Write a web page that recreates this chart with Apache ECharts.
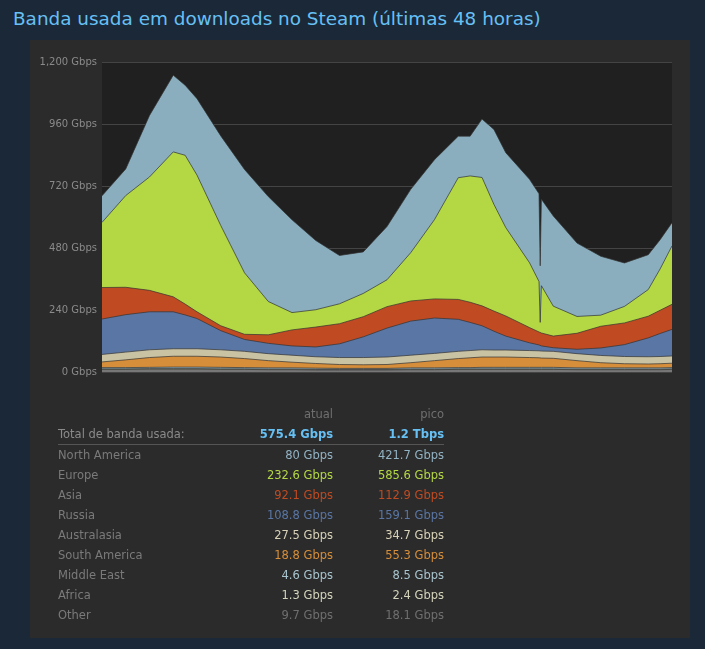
<!DOCTYPE html>
<html><head><meta charset="utf-8">
<script src="https://cdn.jsdelivr.net/npm/echarts@6/dist/echarts.min.js"></script>
<style>
body{margin:0;background:#1b2838;width:705px;height:649px;overflow:hidden;font-family:"DejaVu Sans",sans-serif;}
#title{position:absolute;left:13px;top:8px;color:#66c0f4;font-size:18.4px;font-family:"DejaVu Sans",sans-serif;}
#panel{position:absolute;left:30px;top:40px;width:660px;height:598px;background:#2b2b2b;}
#chart{position:absolute;left:0;top:0;width:705px;height:649px;}
#tbl{position:absolute;left:58px;top:404px;width:386px;font-size:11.5px;}
.row{position:relative;height:20px;line-height:20px;}
.row span{position:absolute;white-space:nowrap;}
.lab{left:0;color:#7a7a7a;}
.c1{right:111px;}
.c2{right:0;}
</style></head><body>
<div id="title">Banda usada em downloads no Steam (últimas 48 horas)</div>
<div id="panel"></div>
<div id="chart"></div>
<div id="tbl"></div>
<script>
const hours = [0,2,4,6,7,8,10,12,14,16,18,20,22,24,26,28,30,31,32,33,34,36,36.8,36.9,37,38,40,42,44,46,47,48];
const other = [10,10,11,11,11,11,10,10,9,9,8,8,8,8,9,9,10,10,10,10,10,10,10,10,10,10,9,9,9,9,9,10];
const africa = [2,2,2,2,2,2,2,2,2,2,2,2,2,2,2,2,2,2,2,2,2,2,2,2,2,2,2,2,2,2,2,2];
const middleEast = [5,5,5,6,6,6,6,5,5,5,5,4,4,4,5,5,5,5,6,6,6,6,6,6,6,6,5,5,5,5,5,5];
const southAmerica = [22,30,38,42,42,42,40,35,28,22,18,15,14,15,20,28,35,38,40,40,40,38,37,36,36,35,28,20,16,15,16,17];
const australasia = [29,30,30,29,29,29,28,28,27,27,26,27,28,29,29,28,28,28,28,27,27,27,27,27,27,27,27,28,28,28,28,28];
const russia = [137,145,147,143,131,117,74,46,40,36,38,53,80,112,132,137,124,109,93,73,54,30,23,20,20,14,17,29,46,73,89,103];
const asia = [122,106,83,58,42,26,19,20,33,62,77,78,78,83,78,74,77,78,77,78,78,59,50,50,50,45,62,84,84,84,90,97];
const europe = [252,355,439,561,576,529,388,238,129,67,67,77,90,104,187,307,471,489,497,413,342,251,195,41,183,116,65,43,64,103,160,226];
const northAmerica = [103,103,238,297,271,296,347,400,406,359,268,187,161,206,245,232,161,154,226,290,290,323,340,219,335,349,284,228,168,135,113,90];
const yTicks = [0,240,480,720,960,1200];

const regions = ["North America","Europe","Asia","Russia","Australasia","South America","Middle East","Africa","Other"];
const current = ["80 Gbps","232.6 Gbps","92.1 Gbps","108.8 Gbps","27.5 Gbps","18.8 Gbps","4.6 Gbps","1.3 Gbps","9.7 Gbps"];
const peak = ["421.7 Gbps","585.6 Gbps","112.9 Gbps","159.1 Gbps","34.7 Gbps","55.3 Gbps","8.5 Gbps","2.4 Gbps","18.1 Gbps"];
const totalCurrent = "575.4 Gbps", totalPeak = "1.2 Tbps";

const colors = {"North America":"#8aaebe","Europe":"#b4d844","Asia":"#c04b22","Russia":"#5a76a4","Australasia":"#c9c3a4","South America":"#d68e3a","Middle East":"#98b4be","Africa":"#bdbd9a","Other":"#777777"};
const textColors = {"North America":"#92b3c4","Europe":"#b4d844","Asia":"#c04b22","Russia":"#5a76a4","Australasia":"#d8d2b8","South America":"#d68e3a","Middle East":"#a8c4ce","Africa":"#d4d4bc","Other":"#6f6f6f"};

const stackOrder = [["Other",other],["Africa",africa],["Middle East",middleEast],["South America",southAmerica],["Australasia",australasia],["Russia",russia],["Asia",asia],["Europe",europe],["North America",northAmerica]];

// cumulative tops (stacked), drawn from top layer down so each lower area covers the one above
const cum = hours.map(()=>0);
const layers = stackOrder.map(([n,arr],k)=>{
  const top = arr.map((v,i)=>(cum[i]+=v));
  return {n,top,k};
});
const series = layers.map(({n,top,k})=>({
  name:n,type:'line',symbol:'none',z:20-k,
  data:hours.map((h,i)=>[h,top[i]]),
  lineStyle:{width:1,color:'rgba(50,50,50,0.7)'},
  areaStyle:{color:colors[n],opacity:1,origin:'start'}
}));

const chart = echarts.init(document.getElementById('chart'));
chart.setOption({
  animation:false,
  grid:{left:102,top:62,width:570,height:310,backgroundColor:'#202020',show:true,borderWidth:0},
  xAxis:{type:'value',min:0,max:48,show:false},
  yAxis:{type:'value',min:0,max:1200,interval:240,
    axisLabel:{color:'#8a8a8a',fontSize:10,fontFamily:'DejaVu Sans',margin:5,
      formatter:v=>v.toLocaleString('en-US')+' Gbps'},
    splitLine:{lineStyle:{color:'#444',width:1}},axisLine:{show:false},axisTick:{show:false}},
  series
});

let html = '<div class="row"><span class="c1" style="color:#6f6f6f">atual</span><span class="c2" style="color:#6f6f6f">pico</span></div>';
html += '<div class="row" style="border-bottom:1px solid #555;height:20px"><span class="lab" style="color:#8a8a8a">Total de banda usada:</span><span class="c1" style="color:#66c0f4;font-weight:bold">'+totalCurrent+'</span><span class="c2" style="color:#66c0f4;font-weight:bold">'+totalPeak+'</span></div>';
regions.forEach((r,i)=>{
  html += '<div class="row"><span class="lab">'+r+'</span><span class="c1" style="color:'+textColors[r]+'">'+current[i]+'</span><span class="c2" style="color:'+textColors[r]+'">'+peak[i]+'</span></div>';
});
document.getElementById('tbl').innerHTML = html;
</script></body></html>
